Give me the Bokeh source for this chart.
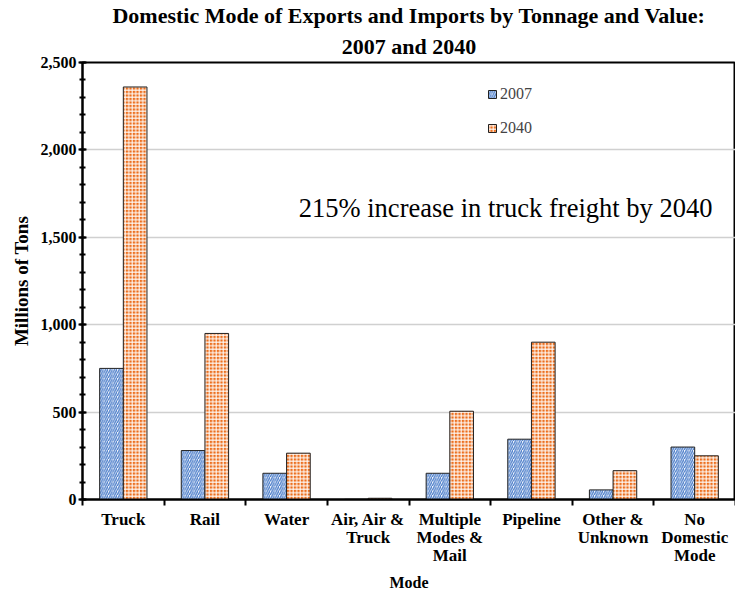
from bokeh.plotting import figure
from bokeh.models import (Range1d, FixedTicker, SingleIntervalTicker, NumeralTickFormatter,
                          Legend, LegendItem, Label, ColumnDataSource, Title)
from bokeh.embed import file_html
from bokeh.resources import INLINE

categories = ["Truck", "Rail", "Water", "Air, Air &\nTruck", "Multiple\nModes &\nMail",
              "Pipeline", "Other &\nUnknown", "No\nDomestic\nMode"]
tons_2007 = [750, 280, 150, 1, 150, 345, 55, 300]
tons_2040 = [2360, 950, 265, 7, 505, 900, 165, 250]
title_lines = ["Domestic Mode of Exports and Imports by Tonnage and Value:", "2007 and 2040"]

SERIF = "Liberation Serif"
BAR_W = 0.29

n = len(categories)
centers = [i + 0.5 for i in range(n)]

p = figure(width=735, height=593, output_backend="svg", toolbar_location=None,
           x_range=Range1d(0, n), y_range=Range1d(0, 2500),
           min_border_left=82, min_border_right=0, min_border_bottom=80, min_border_top=56,
           title=None)

for i, line in enumerate(reversed(title_lines)):
    p.add_layout(Title(text=line, align="center", text_font=SERIF, text_font_size="22px",
                       text_font_style="bold", text_color="black", offset=10,
                       text_line_height=0.9, standoff=8 if i == 0 else 0), "above")

src = ColumnDataSource(dict(x1=[c - BAR_W / 2 for c in centers],
                            x2=[c + BAR_W / 2 for c in centers],
                            t07=tons_2007, t40=tons_2040))

r07 = p.vbar(x="x1", top="t07", width=BAR_W, source=src, fill_color="#f4f8fd",
             hatch_pattern="/", hatch_color="#4a7cc9", hatch_scale=4.5, hatch_weight=1.3,
             line_color="#222222", line_width=1)
r40 = p.vbar(x="x2", top="t40", width=BAR_W, source=src, fill_color="#ec6f1e",
             hatch_pattern="+", hatch_color="white", hatch_scale=3.5, hatch_weight=1,
             line_color="#222222", line_width=1)

# axes
p.yaxis.ticker = SingleIntervalTicker(interval=500, num_minor_ticks=5)
p.yaxis.formatter = NumeralTickFormatter(format="0,0")
p.yaxis.axis_label = "Millions of Tons"
p.xaxis.axis_label = "Mode"
for ax in (p.xaxis[0], p.yaxis[0]):
    ax.axis_label_text_font = SERIF
    ax.axis_label_text_font_style = "bold"
    ax.axis_label_text_color = "black"
    ax.major_label_text_font = SERIF
    ax.major_label_text_font_style = "bold"
    ax.major_label_text_color = "black"
    ax.axis_line_color = "black"
    ax.axis_line_width = 2
p.yaxis.axis_label_text_font_size = "19px"
p.xaxis.axis_label_text_font_size = "16px"
p.yaxis.major_label_text_font_size = "16px"
p.xaxis.major_label_text_font_size = "17px"
p.xaxis.major_label_text_line_height = 0.95

p.yaxis.major_tick_in = 4
p.yaxis.major_tick_out = 4
p.yaxis.minor_tick_in = 3
p.yaxis.minor_tick_out = 3
p.yaxis.major_tick_line_width = 2
p.yaxis.minor_tick_line_width = 2
p.yaxis.major_tick_line_color = "black"
p.yaxis.minor_tick_line_color = "black"
p.yaxis.major_label_standoff = 2
p.yaxis.axis_label_standoff = 6

p.xaxis.ticker = FixedTicker(ticks=centers, minor_ticks=list(range(n + 1)))
p.xaxis.major_label_overrides = {c: lab for c, lab in zip(centers, categories)}
p.xaxis.major_tick_line_color = None
p.xaxis.minor_tick_in = 0
p.xaxis.minor_tick_out = 6
p.xaxis.minor_tick_line_color = "black"
p.xaxis.minor_tick_line_width = 2
p.xaxis.major_label_standoff = 4
p.xaxis.axis_label_standoff = 6

p.xgrid.grid_line_color = None
p.ygrid.grid_line_color = "#d0d0d0"
p.ygrid.grid_line_width = 1.5

p.outline_line_color = "black"
p.outline_line_width = 2

legend = Legend(items=[LegendItem(label="2007", renderers=[r07]),
                       LegendItem(label="2040", renderers=[r40])],
                location=(405, 362), padding=0, margin=0, spacing=16,
                glyph_width=10, glyph_height=10, label_height=16,
                label_text_font=SERIF, label_text_font_size="16px", label_standoff=3,
                background_fill_alpha=0, border_line_color=None)
p.add_layout(legend, "center")

p.add_layout(Label(x=2.65, y=1667, text="215% increase in truck freight by 2040",
                   text_font=SERIF, text_font_size="26.5px", text_baseline="middle",
                   text_color="black"))

open("out.html", "w").write(file_html(p, INLINE))
